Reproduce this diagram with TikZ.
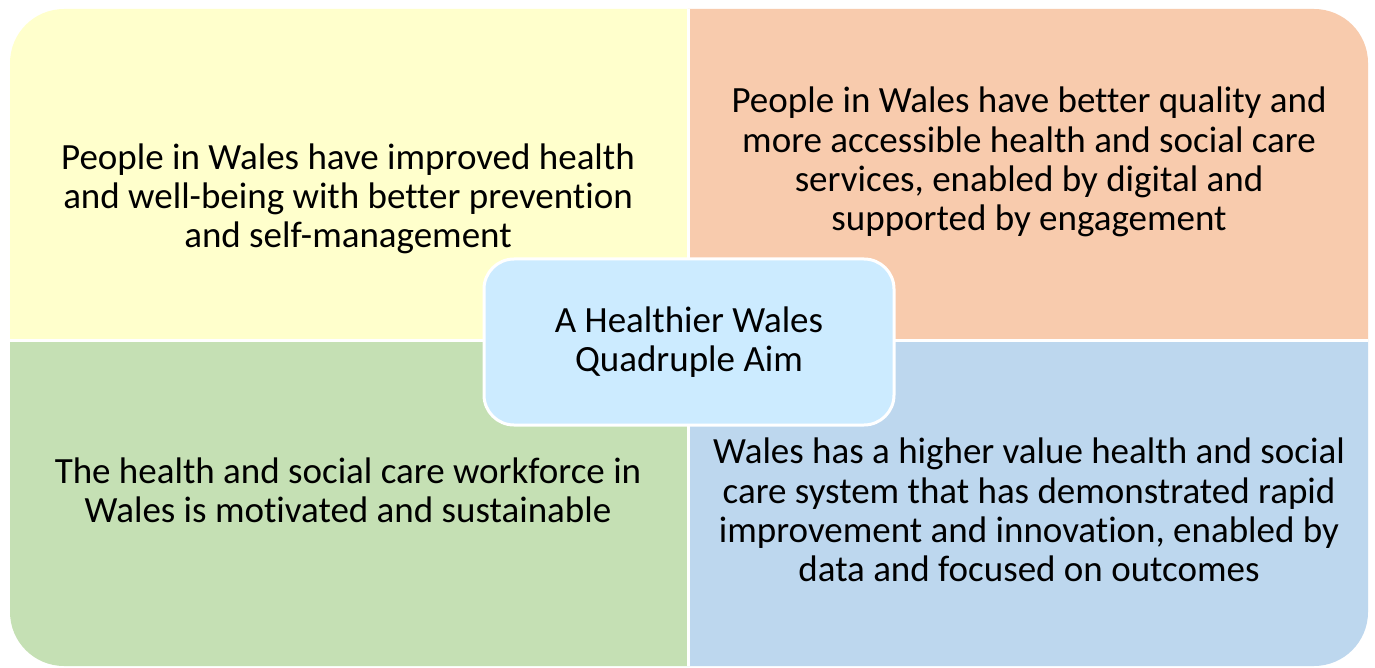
\documentclass[tikz,border=0pt]{standalone}
\usepackage{fontspec}
\setmainfont{Carlito}[Ligatures=NoCommon]
\definecolor{qyellow}{HTML}{FFFFCC}
\definecolor{qorange}{HTML}{F8CBAD}
\definecolor{qgreen}{HTML}{C5E0B4}
\definecolor{qblue}{HTML}{BDD7EE}
\definecolor{qcenter}{HTML}{CCEBFF}
\begin{document}
\begin{tikzpicture}[x=0.5pt,y=-0.5pt,
  qtext/.style={align=center,font=\fontsize{18.5}{19.6}\selectfont,text=black,inner sep=0pt},
  hub/.style={draw=white,line width=1.5pt,fill=qcenter,rounded corners=15pt,minimum width=205pt,minimum height=83pt,align=center,font=\fontsize{18.5}{19.6}\selectfont}]
\useasboundingbox (0,0) rectangle (1375,668);
\fill[white] (0,0) rectangle (1375,668);
\begin{scope}
  \clip[rounded corners=27pt] (10,9) rectangle (1368,666);
  \fill[qyellow] (0,0) rectangle (688,340);
  \fill[qorange] (688,0) rectangle (1375,340);
  \fill[qgreen] (0,340) rectangle (688,668);
  \fill[qblue] (688,340) rectangle (1375,668);
  \draw[white,line width=1.5pt] (688,0) -- (688,668);
  \draw[white,line width=1.5pt] (0,340) -- (1375,340);
\end{scope}
\node[qtext] (tl) at (348,199) {People in Wales have improved health\\and well-being with better prevention\\and self-management};
\node[qtext] (tr) at (1029,162) {People in Wales have better quality and\\more accessible health and social care\\services, enabled by digital and\\supported by engagement};
\node[qtext] (bl) at (348,490) {The health and social care workforce in\\Wales is motivated and sustainable};
\node[qtext] (br) at (1029,510) {Wales has a higher value health and social\\care system that has demonstrated rapid\\improvement and innovation, enabled by\\data and focused on outcomes};
\node[hub] (hub) at (689,342) {A Healthier Wales\\Quadruple Aim};
\end{tikzpicture}
\end{document}
